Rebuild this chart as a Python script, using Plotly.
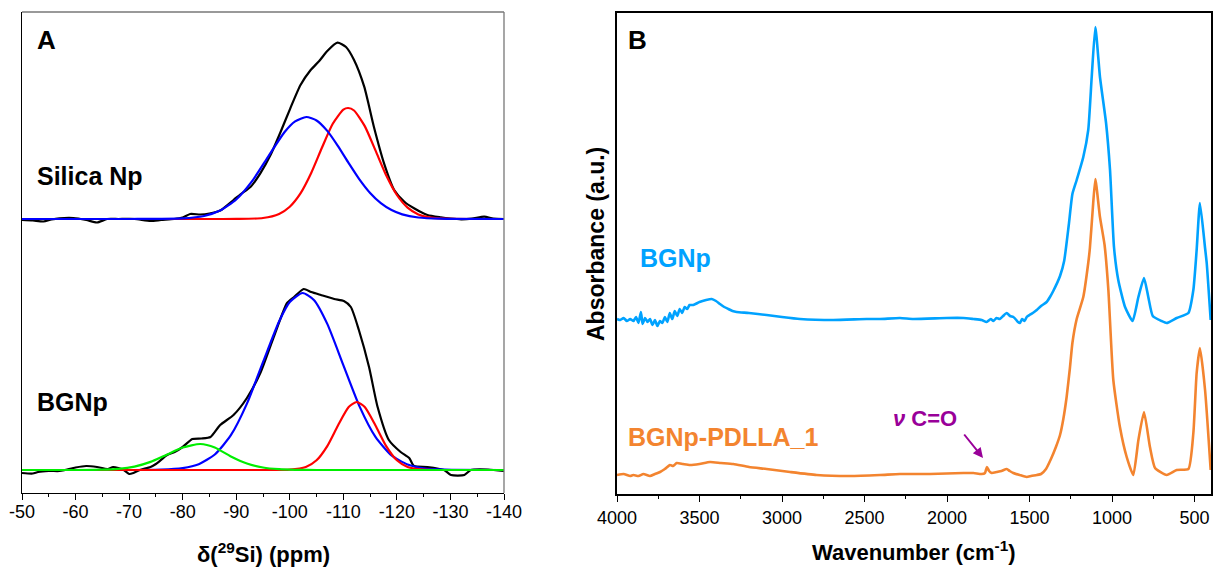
import plotly.graph_objects as go

W, H = 1219, 569

# ---------------- Panel A : 29Si MAS NMR (intensities, a.u.) ----------------
silica_exp_ppm = [-50, -52, -54, -55.5, -57, -59.6, -62, -64, -65.9, -68, -71, -74, -76, -78.4, -80, -81.4,
                  -83.3, -85, -87, -89.5, -90.8, -92.7, -94.5, -96.4, -98.3, -100.1, -102, -103.9, -105.5,
                  -107, -108.9, -110.5, -112, -113.9, -115.7, -117.6, -119.5, -121.4, -123.2, -125.7,
                  -128.2, -130, -132, -134, -136.3, -138, -140]
silica_exp_int = [-1, -1.5, -2.5, -0.5, 0.7, 1, -1, -3.5, 0, 0, 0, -2, -1, 0, 1.5, 5,
                  4.5, 5.5, 8.5, 19, 24.7, 32.3, 45.7, 64, 87.3, 110.7, 134, 149, 158,
                  168, 176.3, 172, 159, 132.3, 92.3, 55.7, 29, 17.3, 10.7, 4,
                  1.7, 0.5, -0.3, 0.3, 2.3, 0.5, 0]

silica_q3_ppm = [-50, -70, -80, -84, -87, -90, -93, -96, -99, -101, -103.1, -105, -107, -109, -111, -113,
                 -115, -117, -119, -121, -124, -128, -140]
silica_q3_int = [0, 0, 0.6, 3.0, 8.4, 19.5, 38.1, 62.7, 86.8, 97.7, 102, 98.5, 88.1, 72.9, 55.9, 39.6,
                 26.0, 15.8, 8.9, 4.6, 1.5, 0.3, 0]

silica_q4_ppm = [-50, -85, -90, -95, -98, -100, -102, -104, -106, -108, -110, -110.9, -112, -114, -116,
                 -118, -120, -122, -124, -126, -129, -135, -140]
silica_q4_int = [0, 0, 0.05, 1.0, 5.1, 12.3, 25.6, 46, 71.2, 95, 109.3, 111, 108.5, 92.9, 68.6,
                 43.7, 24.0, 11.4, 4.6, 1.6, 0.3, 0, 0]

bgnp_exp_ppm = [-50, -52, -53, -55, -57, -58, -60, -62, -64, -66, -67, -68, -69, -70, -70.8, -72, -74,
                -75, -77.1, -78.5, -80, -81.8, -83.5, -85.2, -87, -89.5, -92, -94.5, -97, -99.5, -100.8,
                -102.6, -104, -105.8, -108.3, -110.1, -111.4, -112.9, -114.8, -116.4, -118.5, -120.7,
                -122.3, -123.2, -125.7, -128.8, -130.1, -132.6, -133.8, -137, -140]
bgnp_exp_int = [-3, -3.5, -2, -1, -1, 0, 2.5, 4, 3, 1, 3, 2, 0, -4, -3, 0, 3,
                6, 15, 18, 23, 31, 31.5, 33, 45, 55, 72, 97, 133, 167, 173,
                181, 178, 175, 171, 169, 163, 140, 103, 63, 30, 18,
                12, 4, 3, 0, -5, -5, 0, 0.5, -1]

bgnp_q3_ppm = [-50, -70, -76, -80, -83, -86, -89, -92, -95, -98, -100, -102.4, -104.5, -107, -110, -113,
               -116, -119, -122, -125, -129, -140]
bgnp_q3_int = [0, 0, 0.3, 1.9, 5.8, 15.5, 34.8, 66.4, 107.8, 148.5, 168, 177, 170, 146.1, 104.9, 63.9,
               33.1, 14.6, 5.5, 1.7, 0.3, 0]

bgnp_q4_ppm = [-50, -95, -100, -103, -105, -107, -109, -111, -112.5, -114, -116, -118, -120, -122, -125,
               -128, -140]
bgnp_q4_int = [0, 0, 0.3, 3.0, 9.7, 23.9, 44.5, 62.9, 68, 62.9, 44.5, 23.9, 9.7, 3.0, 0.3, 0, 0]

bgnp_q2_ppm = [-50, -60, -65, -68, -71, -74, -77, -80, -83.3, -86, -89, -92, -95, -98, -101, -105, -140]
bgnp_q2_int = [0, 0, 0.3, 1.1, 3.4, 8.1, 15.3, 22.5, 26, 22.5, 13.5, 6.5, 2.5, 0.8, 0.2, 0, 0]

silica_offset = 274
bgnp_offset = 23
nmr_ticks = [-50, -60, -70, -80, -90, -100, -110, -120, -130, -140]
nmr_tick_labels = ["-50", "-60", "-70", "-80", "-90", "-100", "-110", "-120", "-130", "-140"]

# ---------------- Panel B : FTIR absorbance (a.u.) ----------------
ftir_bgnp_wn = [4000, 3980, 3960, 3940, 3920, 3900, 3885, 3870, 3855, 3845, 3830, 3815, 3800, 3785, 3770,
                3755, 3740, 3725, 3710, 3695, 3680, 3665, 3650, 3635, 3620, 3605, 3590, 3575, 3560, 3538,
                3500, 3460, 3426, 3400, 3376, 3350, 3325, 3300, 3275, 3200, 3093, 3000, 2891, 2689, 2487,
                2406, 2285, 2204, 2002, 1900, 1840, 1790, 1760, 1735, 1719, 1700, 1680, 1660, 1638, 1618,
                1598, 1580, 1570, 1558, 1545, 1530, 1517, 1500, 1480, 1456, 1430, 1396, 1376, 1356, 1315,
                1290, 1262, 1240, 1214, 1174, 1144, 1123, 1101, 1073, 1036, 1012, 988, 962, 921, 875, 840,
                806, 780, 753, 700, 669, 608, 537, 507, 487, 467, 436, 426, 402]
ftir_bgnp_abs = [164, 163, 165, 162, 164, 162, 166, 160, 171, 159, 165, 161, 164, 158, 163,
                 157, 162, 160, 166, 161, 170, 164, 172, 167, 174, 170, 176, 174, 178, 178,
                 181, 183, 184, 182, 179, 176, 174, 172, 171, 170, 168, 166, 164, 163, 164,
                 164, 165, 164, 165, 165, 164, 163, 161, 164, 162, 165, 164, 167, 170, 167,
                 166, 163, 161, 160, 164, 162, 166, 168, 170, 173, 177, 181, 186, 192, 207,
                 222, 258, 289, 303, 326, 353, 406, 456, 406, 360, 313, 236, 203, 176, 162, 186,
                 205, 186, 167, 162, 160, 165, 170, 193, 233, 280, 235, 220, 163]

ftir_pdlla_wn = [4000, 3960, 3920, 3901, 3870, 3840, 3800, 3770, 3739, 3710, 3679, 3660, 3638, 3600, 3558,
                 3500, 3436, 3370, 3295, 3200, 3093, 2951, 2790, 2588, 2406, 2285, 2103, 1900, 1840, 1790,
                 1770, 1758, 1745, 1729, 1699, 1670, 1638, 1620, 1598, 1560, 1517, 1490, 1456, 1430, 1400,
                 1370, 1340, 1315, 1295, 1275, 1255, 1240, 1214, 1174, 1144, 1134, 1117, 1101, 1073, 1045,
                 1022, 992, 952, 911, 871, 840, 806, 770, 739, 669, 608, 537, 507, 487, 467, 436, 402]
ftir_pdlla_abs = [8, 9, 7, 8, 7, 9, 7, 9, 11, 14, 18, 17, 20, 19, 18,
                  19, 21, 20, 19, 16, 14, 11, 8, 7, 8, 9, 9, 10, 10, 9,
                  10, 16, 12, 10, 11, 12, 14, 12, 10, 8, 6, 7, 8, 9, 14,
                  24, 36, 48, 64, 86, 115, 140, 164, 186, 220, 235, 273, 304, 266, 238,
                  193, 103, 56, 26, 8, 43, 71, 36, 15, 8, 13, 14, 50, 110, 135, 93, 13]

ftir_ticks = [4000, 3500, 3000, 2500, 2000, 1500, 1000, 500]
ftir_tick_labels = ["4000", "3500", "3000", "2500", "2000", "1500", "1000", "500"]

# ---------------- figure ----------------
FONT = "Liberation Sans, Arial, sans-serif"
C_BGNP = "#00A2FF"
C_PDLLA = "#F3842F"
C_PURPLE = "#990099"


def px(x):
    return x / W


def py(y):
    return 1 - y / H


fig = go.Figure()
lw_a = 2.2
spline = dict(shape="spline", smoothing=0.6)


def add_a(xs, ys, off, color):
    fig.add_trace(go.Scatter(x=xs, y=[v + off for v in ys], mode="lines",
                             line=dict(color=color, width=lw_a, **spline),
                             xaxis="x", yaxis="y", showlegend=False, hoverinfo="skip"))


add_a(silica_exp_ppm, silica_exp_int, silica_offset, "black")
add_a(silica_q4_ppm, silica_q4_int, silica_offset, "#FF0000")
add_a(silica_q3_ppm, silica_q3_int, silica_offset, "#0000FF")
add_a(bgnp_exp_ppm, bgnp_exp_int, bgnp_offset, "black")
add_a(bgnp_q3_ppm, bgnp_q3_int, bgnp_offset, "#0000FF")
add_a(bgnp_q4_ppm, bgnp_q4_int, bgnp_offset, "#FF0000")
add_a(bgnp_q2_ppm, bgnp_q2_int, bgnp_offset, "#00EE00")

fig.add_trace(go.Scatter(x=ftir_bgnp_wn, y=ftir_bgnp_abs, mode="lines",
                         line=dict(color=C_BGNP, width=2.6, shape="spline", smoothing=0.5),
                         xaxis="x2", yaxis="y2", showlegend=False, hoverinfo="skip"))
fig.add_trace(go.Scatter(x=ftir_pdlla_wn, y=ftir_pdlla_abs, mode="lines",
                         line=dict(color=C_PDLLA, width=2.6, shape="spline", smoothing=0.5),
                         xaxis="x2", yaxis="y2", showlegend=False, hoverinfo="skip"))

tickfont = dict(family=FONT, size=18, color="black")

fig.update_layout(
    width=W, height=H,
    margin=dict(l=0, r=0, t=0, b=0, pad=0, autoexpand=False),
    paper_bgcolor="white", plot_bgcolor="white",
    xaxis=dict(domain=[px(22), px(504)], range=[-50, -140], anchor="y", automargin=False,
               showline=True, linecolor="black", linewidth=1.3, showgrid=False, zeroline=False,
               ticks="outside", ticklen=6, tickwidth=1.3, tickcolor="black", ticklabelstandoff=-4,
               tickvals=nmr_ticks, ticktext=nmr_tick_labels, tickfont=tickfont,
               minor=dict(dtick=5, tick0=-50, ticks="outside", ticklen=3, tickwidth=1.2,
                          tickcolor="black", showgrid=False)),
    yaxis=dict(domain=[py(493), py(12)], range=[0, 481], anchor="x", automargin=False,
               showline=True, linecolor="black", linewidth=1.3, showgrid=False, zeroline=False,
               showticklabels=False, ticks=""),
    xaxis2=dict(domain=[px(617), px(1211)], range=[4000, 400], anchor="y2", automargin=False,
                showline=True, linecolor="black", linewidth=1.8, mirror=True,
                showgrid=False, zeroline=False,
                ticks="outside", ticklen=6, tickwidth=1.3, tickcolor="black",
                tickvals=ftir_ticks, ticktext=ftir_tick_labels, tickfont=tickfont,
                minor=dict(dtick=250, tick0=0, ticks="outside", ticklen=3, tickwidth=1.2,
                           tickcolor="black", showgrid=False)),
    yaxis2=dict(domain=[py(494), py(13)], range=[-11, 470], anchor="x2", automargin=False,
                showline=True, linecolor="black", linewidth=1.8, mirror=True,
                showgrid=False, zeroline=False, showticklabels=False, ticks=""),
)

# grey top / right frame of panel A
for x0, y0, x1, y1 in [(0, 1, 1, 1), (1, 0, 1, 1)]:
    fig.add_shape(type="line", xref="x domain", yref="y domain", x0=x0, y0=y0, x1=x1, y1=y1,
                  line=dict(color="#777777", width=1.3))


def label(text, x, y, size, color="black", xanchor="center", yanchor="middle", angle=0):
    fig.add_annotation(text=text, x=px(x), y=py(y), xref="paper", yref="paper",
                       showarrow=False, xanchor=xanchor, yanchor=yanchor, textangle=angle,
                       font=dict(family=FONT, size=size, color=color))


label("<b>A</b>", 46, 40, 26)
label("<b>B</b>", 637, 40, 26)
label("<b>Silica Np</b>", 35, 176, 25, xanchor="left")
label("<b>BGNp</b>", 35, 402, 25, xanchor="left")
label("<b>δ(<sup>29</sup>Si) (ppm)</b>", 263, 553, 22)
label("<b>Wavenumber (cm<sup>-1</sup>)</b>", 914, 551, 22)
label("<b>Absorbance (a.u.)</b>", 596, 244, 23, angle=-90)
label("<b>BGNp</b>", 638, 258, 25, color=C_BGNP, xanchor="left")
label("<b>BGNp-PDLLA_1</b>", 626, 437, 25, color=C_PDLLA, xanchor="left")
label("<b><i>ν</i> C=O</b>", 925, 418, 22, color=C_PURPLE)

fig.add_annotation(x=px(983), y=py(458), xref="paper", yref="paper", text="",
                   showarrow=True, ax=-20, ay=-25, arrowhead=2, arrowsize=1,
                   arrowwidth=2, arrowcolor=C_PURPLE)

fig.write_html("out.html", config={"displayModeBar": False},
               post_script="document.body.style.margin='0';document.body.style.overflow='hidden';")
